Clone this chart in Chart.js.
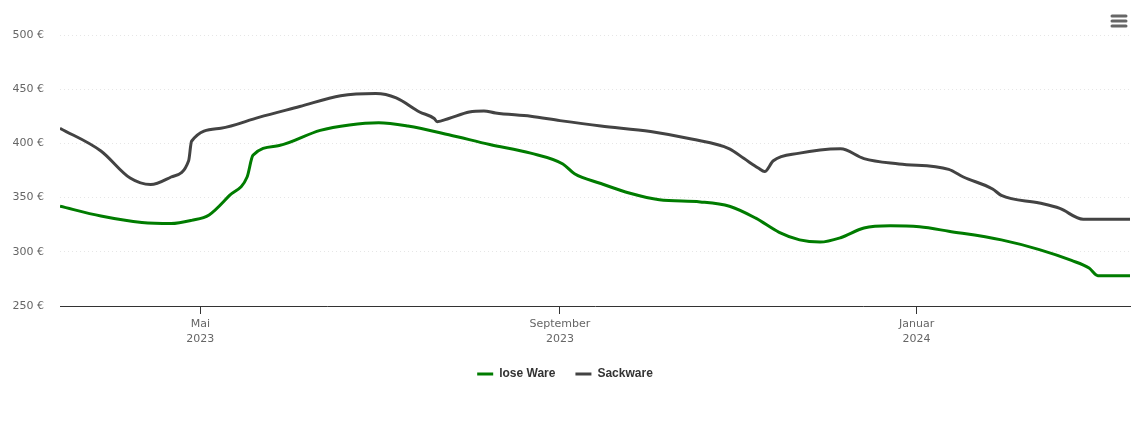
<!DOCTYPE html>
<html lang="de">
<head>
  <meta charset="UTF-8">
  <title>Preisentwicklung</title>
  <style>
    html, body { margin: 0; padding: 0; background: #fff; }
    .wrap { width: 1140px; height: 434px; position: relative; }
  </style>
  <script src="https://cdn.jsdelivr.net/npm/chart.js"></script>
</head>
<body>
  <div class="wrap">
    <canvas id="priceChart" width="1140" height="434"></canvas>
  </div>

  <script>
    // x axis range and ticks
    const rangeStart = '2023-03-14';
    const rangeEnd = '2024-03-14';
    const tickDates = ['2023-05-01', '2023-09-01', '2024-01-01'];
    const tickLabels = [['Mai', '2023'], ['September', '2023'], ['Januar', '2024']];

    // lose Ware
    const looseDates = ['2023-03-14', '2023-03-28', '2023-04-11', '2023-04-21', '2023-04-28', '2023-05-04',
      '2023-05-11', '2023-05-17', '2023-05-19', '2023-05-28', '2023-06-11', '2023-06-21', '2023-07-01',
      '2023-07-11', '2023-07-25', '2023-08-08', '2023-08-22', '2023-09-02', '2023-09-06', '2023-09-15',
      '2023-09-25', '2023-10-05', '2023-10-19', '2023-10-29', '2023-11-07', '2023-11-15', '2023-11-22',
      '2023-11-29', '2023-12-06', '2023-12-14', '2023-12-23', '2024-01-02', '2024-01-12', '2024-01-30',
      '2024-02-12', '2024-02-23', '2024-02-29', '2024-03-03', '2024-03-14'];
    const looseValues = [342, 333, 327, 326, 329, 334,
      352, 369, 389, 398, 412, 417, 419,
      416, 408, 399, 391, 381, 372, 363,
      354, 348, 346, 342, 331, 318, 311,
      309, 313, 322, 324, 323, 319, 311,
      302, 292, 285, 278, 278];

    // Sackware
    const bagDates = ['2023-03-14', '2023-03-28', '2023-04-07', '2023-04-14', '2023-04-21', '2023-04-27',
      '2023-04-28', '2023-05-08', '2023-05-21', '2023-06-04', '2023-06-18', '2023-06-30', '2023-07-07',
      '2023-07-15', '2023-07-20', '2023-07-21', '2023-07-25', '2023-08-01', '2023-08-06', '2023-08-10',
      '2023-08-22', '2023-09-01', '2023-09-15', '2023-10-02', '2023-10-16', '2023-10-29', '2023-11-03',
      '2023-11-08', '2023-11-10', '2023-11-13', '2023-11-22', '2023-11-29', '2023-12-06', '2023-12-14',
      '2023-12-26', '2024-01-12', '2024-01-17', '2024-01-27', '2024-01-30', '2024-02-12', '2024-02-19',
      '2024-02-27', '2024-03-14'];
    const bagValues = [414, 393, 368, 362, 369, 384,
      402, 414, 424, 434, 444, 446, 442,
      429, 423, 420, 423, 429, 430, 428,
      425, 421, 416, 411, 404, 395, 386,
      377, 374, 384, 391, 394, 395, 386,
      381, 376, 369, 358, 352, 345, 340,
      330, 330];

    const toDay = d => Date.parse(d) / 86400000;
    const toPoints = (dates, values) => dates.map((d, i) => ({ x: toDay(d), y: values[i] }));
    const tickDays = tickDates.map(toDay);

    // little hamburger icon, top right
    const menuIcon = {
      id: 'menuIcon',
      afterDraw(chart) {
        const ctx = chart.ctx;
        ctx.save();
        ctx.strokeStyle = '#666';
        ctx.lineWidth = 3;
        ctx.lineCap = 'round';
        [16, 21, 26].forEach(y => {
          ctx.beginPath();
          ctx.moveTo(1112, y);
          ctx.lineTo(1126, y);
          ctx.stroke();
        });
        ctx.restore();
      }
    };

    const ctx = document.getElementById('priceChart').getContext('2d');
    const priceChart = new Chart(ctx, {
      type: 'line',
      data: {
        datasets: [
          {
            label: 'lose Ware',
            data: toPoints(looseDates, looseValues),
            borderColor: '#007c00',
            backgroundColor: '#007c00',
            borderWidth: 3,
            pointRadius: 0,
            cubicInterpolationMode: 'monotone',
            fill: false
          },
          {
            label: 'Sackware',
            data: toPoints(bagDates, bagValues),
            borderColor: '#434343',
            backgroundColor: '#434343',
            borderWidth: 3,
            pointRadius: 0,
            cubicInterpolationMode: 'monotone',
            fill: false
          }
        ]
      },
      options: {
        responsive: false,
        animation: false,
        layout: { padding: { top: 35, right: 10, bottom: 44, left: 0 } },
        plugins: {
          tooltip: { enabled: false },
          legend: {
            position: 'bottom',
            labels: {
              usePointStyle: true,
              pointStyle: 'line',
              pointStyleWidth: 16,
              boxHeight: 12,
              padding: 20,
              color: '#333',
              font: { family: 'Liberation Sans', size: 12, weight: 'bold' }
            }
          }
        },
        scales: {
          x: {
            type: 'linear',
            min: toDay(rangeStart),
            max: toDay(rangeEnd),
            afterBuildTicks: scale => { scale.ticks = tickDays.map(v => ({ value: v })); },
            afterFit: scale => { scale.height = 42; },
            grid: { drawOnChartArea: false, tickColor: '#333', tickLength: 8 },
            border: { color: '#333', width: 1 },
            ticks: {
              color: '#666',
              padding: 3,
              maxRotation: 0,
              font: { family: 'DejaVu Sans', size: 11, lineHeight: 1.35 },
              callback: value => tickLabels[tickDays.indexOf(value)]
            }
          },
          y: {
            min: 250,
            max: 500,
            afterFit: scale => { scale.width = 60; },
            grid: { color: '#e6e6e6', drawTicks: false },
            border: { display: false, dash: [1, 3] },
            ticks: {
              stepSize: 50,
              color: '#666',
              padding: 16,
              font: { family: 'DejaVu Sans', size: 11 },
              callback: v => v + ' €'
            }
          }
        }
      },
      plugins: [menuIcon]
    });
  </script>
</body>
</html>
